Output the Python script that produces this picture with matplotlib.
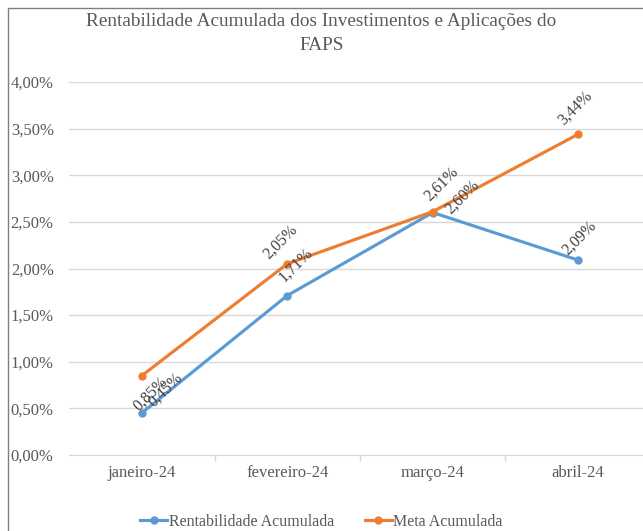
import matplotlib
matplotlib.use('Agg')
import matplotlib.pyplot as plt
from matplotlib.patches import Rectangle

months = ['janeiro-24', 'fevereiro-24', 'março-24', 'abril-24']
rentabilidade = [0.45, 1.71, 2.60, 2.09]
meta = [0.85, 2.05, 2.61, 3.44]
y_ticks = [0.0, 0.5, 1.0, 1.5, 2.0, 2.5, 3.0, 3.5, 4.0]

blue = '#5B9BD5'
orange = '#ED7D31'
text_gray = '#595959'

plt.rcParams['font.family'] = ['Liberation Serif', 'DejaVu Serif']

fig = plt.figure(figsize=(6.43, 5.31), dpi=100)
ax = fig.add_axes([69 / 643, 0.1431, (651 - 69) / 643, 0.8456 - 0.1431])

# chart border (cropped at right and bottom in the reference)
fig.patches.append(Rectangle((8 / 643, -0.2), 1.2, (531 - 8) / 531 + 0.2,
                             transform=fig.transFigure, fill=False,
                             edgecolor='#7f7f7f', linewidth=1.0, clip_on=False))

x = list(range(len(months)))
ax.plot(x, rentabilidade, color=blue, linewidth=2.25, marker='o', markersize=5,
        label='Rentabilidade Acumulada', zorder=3)
ax.plot(x, meta, color=orange, linewidth=2.25, marker='o', markersize=5,
        label='Meta Acumulada', zorder=3)

# data labels (offsets in points, mimicking the Excel placement)
meta_offsets = [(6, 14), (-5, 16), (6, 20), (-2, 19)]
rent_offsets = [(17, 17), (6, 22), (21, 11), (1, 16)]
for i, v in enumerate(meta):
    lab = f'{v:.2f}%'.replace('.', ',')
    # the first Meta label sits at the Rentabilidade point in the original
    anchor = rentabilidade[i] if i == 0 else v
    ax.annotate(lab, (x[i], anchor), xytext=meta_offsets[i], textcoords='offset points',
                rotation=45, ha='center', va='center', fontsize=11.5, color='#404040')
for i, v in enumerate(rentabilidade):
    lab = f'{v:.2f}%'.replace('.', ',')
    ax.annotate(lab, (x[i], v), xytext=rent_offsets[i], textcoords='offset points',
                rotation=45, ha='center', va='center', fontsize=11.5, color='#404040')

ax.set_xlim(-0.5, 3.5)
ax.set_ylim(0, 4.0)
ax.set_yticks(y_ticks)
ax.set_yticklabels([f'{t:.2f}%'.replace('.', ',') for t in y_ticks])
ax.set_xticks(x)
ax.set_xticklabels(months)
ax.set_xticks([0.5, 1.5, 2.5], minor=True)
ax.tick_params(axis='both', which='major', length=0, labelsize=12, labelcolor=text_gray)
ax.tick_params(axis='x', which='minor', length=4, color='#d9d9d9', width=1)
ax.tick_params(axis='y', pad=11)
ax.tick_params(axis='x', pad=7)

ax.grid(axis='y', color='#d9d9d9', linewidth=1)
ax.set_axisbelow(True)
for s in ['top', 'right', 'left']:
    ax.spines[s].set_visible(False)
ax.spines['bottom'].set_color('#d9d9d9')

fig.text(0.5, (531 - 22) / 531, 'Rentabilidade Acumulada dos Investimentos e Aplicações do',
         ha='center', va='center', fontsize=13.9, color=text_gray)
fig.text(0.5, (531 - 45) / 531, 'FAPS', ha='center', va='center', fontsize=13.9, color=text_gray)

leg = fig.legend(loc='center', bbox_to_anchor=(0.5, 9 / 531), ncol=2, frameon=False,
                 fontsize=11.5, handlelength=1.7, columnspacing=1.9, handletextpad=0.1)
for t in leg.get_texts():
    t.set_color(text_gray)

fig.savefig('out.png', dpi=100)
